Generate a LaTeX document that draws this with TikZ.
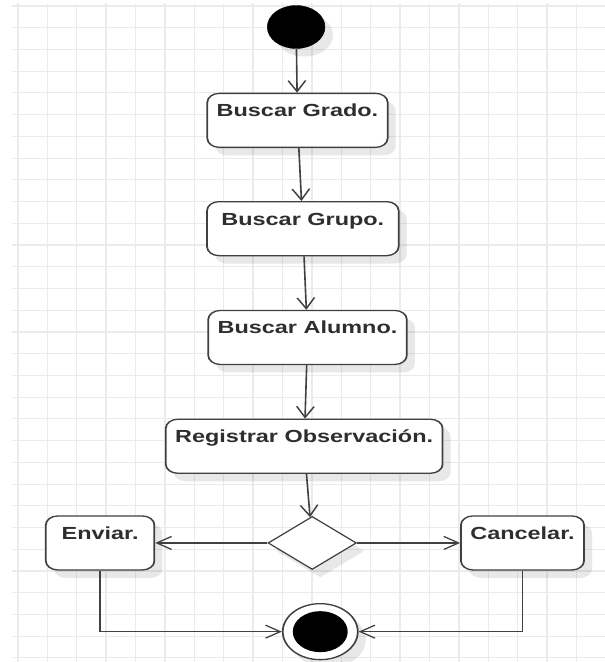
\documentclass[tikz,border=0pt]{standalone}
\usepackage{fontspec}
\setsansfont{Liberation Sans}
\usetikzlibrary{arrows.meta,positioning,shapes.geometric,shadows}
\tikzset{
    %Define standard arrow tip
    >={Straight Barb[length=11pt,width=13pt]},
    %Define soft shadow under shapes
    soft shadow/.style={
           drop shadow={shadow xshift=6pt, shadow yshift=-8pt,
                        fill=black, opacity=0.09}
           },
    %Define style for activity boxes
    activity/.style={
           rectangle,
           rounded corners=9pt,
           draw=black!75, line width=1.3pt,
           fill=white,
           minimum width=81pt,
           minimum height=54pt,
           inner xsep=7pt,
           inner ysep=4pt,
           text height=19.5pt,
           text depth=26.5pt,
           text=black!82,
           font=\sffamily\bfseries\fontsize{17.5}{20}\selectfont,
           soft shadow
           },
    %Define style for start and end
    startnode/.style={
           circle,
           draw=black, fill=black,
           minimum size=43pt,
           inner sep=0pt,
           soft shadow
           },
    endring/.style={
           circle,
           draw=black!75, line width=1.3pt,
           fill=white,
           minimum size=56pt,
           inner sep=0pt,
           soft shadow
           },
    enddot/.style={
           circle,
           fill=black,
           minimum size=41pt,
           inner sep=0pt
           },
    %Define style for decision
    choice/.style={
           diamond,
           draw=black!75, line width=1.1pt,
           fill=white,
           aspect=1.25,
           minimum width=66pt,
           minimum height=53pt,
           inner sep=0pt,
           soft shadow
           },
    % Define arrow style
    flow/.style={
           ->,
           draw=black!75,
           line width=1.2pt},
    gridline/.style={draw=black!8, line width=1.1pt}
}

\begin{document}
\begin{tikzpicture}[x=1pt,y=-1pt]

\path[use as bounding box, fill=white] (0,0) rectangle (605,662);

\begin{scope}[transform canvas={xscale=1.34}]
 %grid
 \foreach \i in {0,...,20}
   \draw[gridline] (13.4+21.94*\i,3) -- (13.4+21.94*\i,662);
 \foreach \j in {0,...,30}
   \draw[gridline] (9,6+21.73*\j) -- (452,6+21.73*\j);

 %nodes
 \node[startnode] (start) at (221,27) {};
 \node[activity, below=44pt of start, xshift=1pt] (grado) {Buscar Grado.};
 \node[activity, minimum width=143pt, below=53pt of grado, xshift=4pt] (grupo) {Buscar Grupo.};
 \node[activity, below=53.5pt of grupo, xshift=3.5pt] (alumno) {Buscar Alumno.};
 \node[activity, below=53.5pt of alumno, xshift=-2.5pt] (registrar) {Registrar Observación.};
 \node[choice, below=42pt of registrar, xshift=6pt] (decision) {};
 \node[activity, left=83.6pt of decision] (enviar) {Enviar.};
 \node[activity, right=76.8pt of decision] (cancelar) {Cancelar.};
 \node[endring, below=33pt of decision, xshift=6pt] (final) {};
 \node[enddot] (finaldot) at (final) {};

 %connectors
 \path[flow]
    (start) edge (grado)
    (grado) edge (grupo)
    (grupo) edge (alumno)
    (alumno) edge (registrar)
    (registrar) edge (decision)
    (decision) edge (enviar)
    (decision) edge (cancelar);
 \draw[flow] (enviar.south) |- (final);
 \draw[flow] (cancelar.south) |- (final);
\end{scope}

\end{tikzpicture}
\end{document}
